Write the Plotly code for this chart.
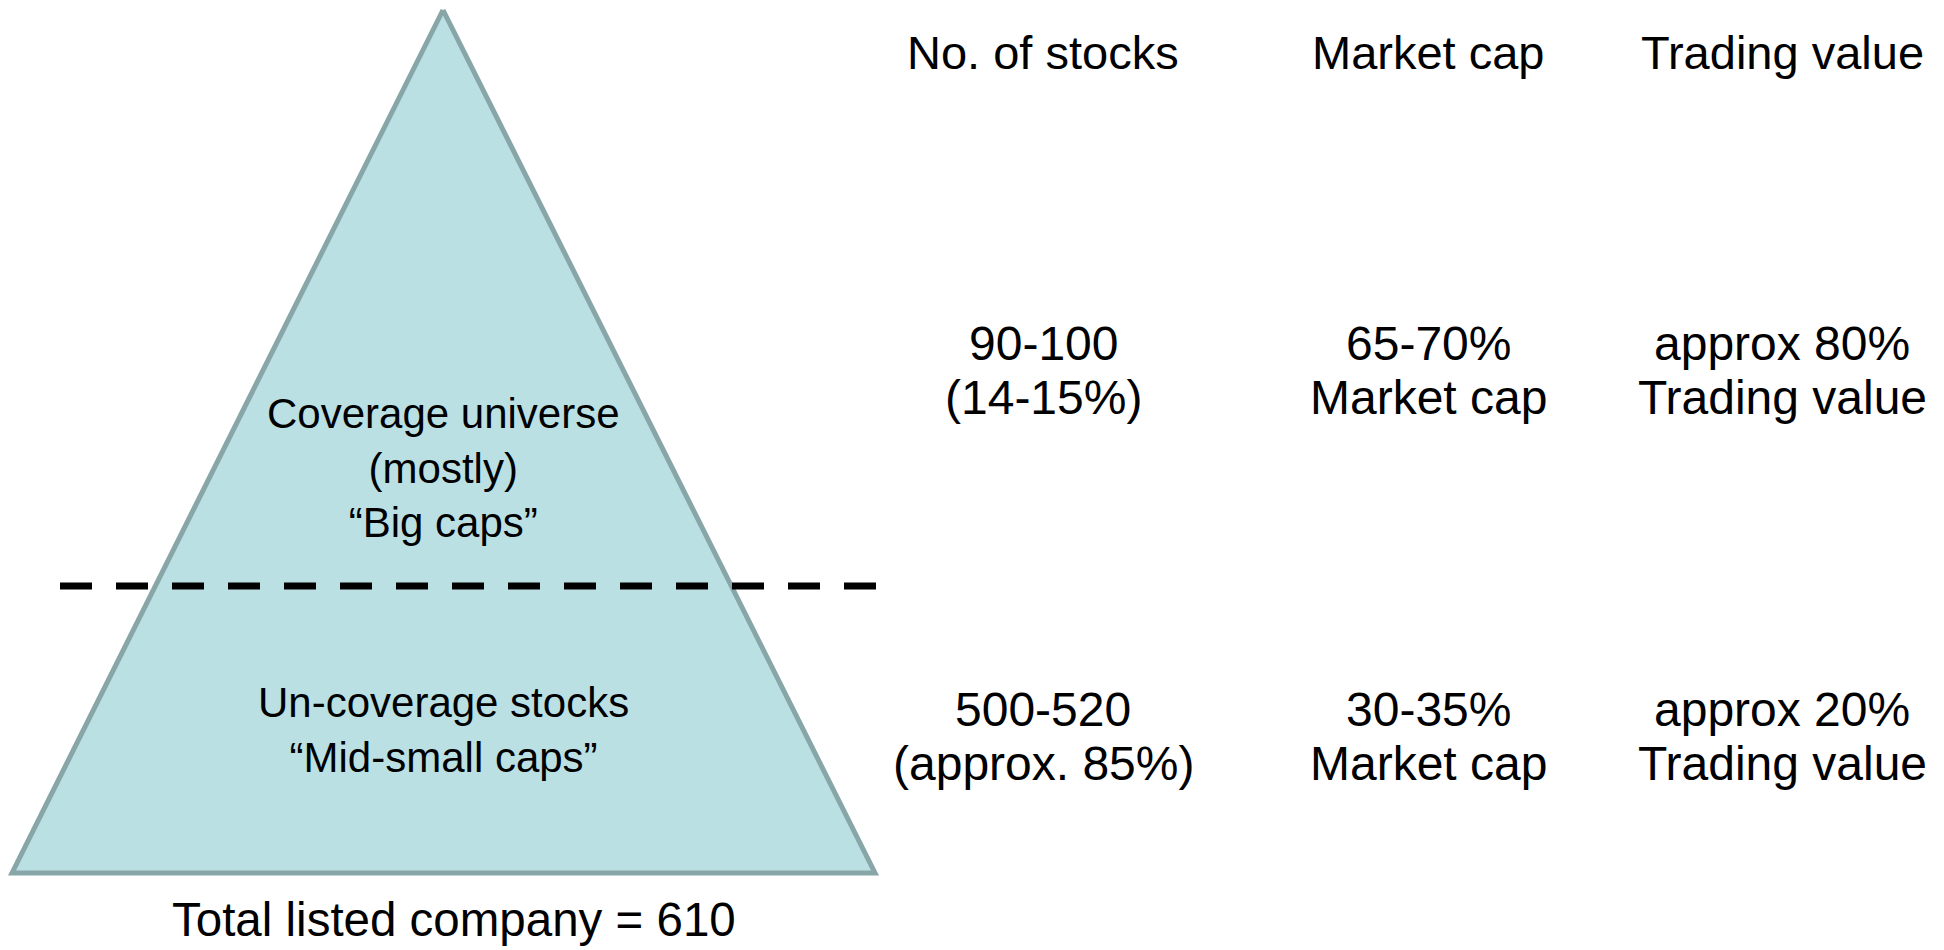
import plotly.graph_objects as go

# ---- data ----
col_headers = ["No. of stocks", "Market cap", "Trading value"]
top_values = ["90-100", "65-70%", "approx 80%"]
top_notes = ["(14-15%)", "Market cap", "Trading value"]
bottom_values = ["500-520", "30-35%", "approx 20%"]
bottom_notes = ["(approx. 85%)", "Market cap", "Trading value"]
tier_labels = ["Coverage universe<br>(mostly)<br>\u201cBig caps\u201d", "Un-coverage stocks<br>\u201cMid-small caps\u201d"]
total_label = "Total listed company = 610"

# ---- layout constants (pixel space of the page) ----
W, H = 1944, 950
BODY = 8  # default html body margin
col_x = [1043, 1428, 1782]
header_y = 52
line_y = [343, 397, 709, 763]
tri_x = [443, 875, 12, 443]
tri_y = [10, 873, 873, 10]
tier_y = [468, 730]
FONT = "Liberation Sans, Arial, sans-serif"

fig = go.Figure()
fig.add_trace(go.Scatter(
    x=tri_x, y=tri_y, mode="lines", fill="toself",
    fillcolor="#BAE0E4", line=dict(color="#88A6A8", width=5),
    hoverinfo="skip", showlegend=False))

fig.add_shape(type="line", xref="x", yref="y", x0=60, x1=876, y0=586, y1=586,
              line=dict(color="black", width=7, dash="32px,24px"))

annotations = []
for cx, h in zip(col_x, col_headers):
    annotations.append(dict(x=cx, y=header_y, text=h, font=dict(size=47, color="black", family=FONT)))
for ly, row in zip(line_y, [top_values, top_notes, bottom_values, bottom_notes]):
    for cx, t in zip(col_x, row):
        annotations.append(dict(x=cx, y=ly, text=t, font=dict(size=48, color="black", family=FONT)))
for ty, t in zip(tier_y, tier_labels):
    annotations.append(dict(x=443, y=ty, text=t, font=dict(size=42, color="black", family=FONT)))
annotations.append(dict(x=454, y=919, text=total_label, font=dict(size=47.5, color="black", family=FONT)))
for a in annotations:
    a.update(xref="x", yref="y", showarrow=False, xanchor="center", yanchor="middle", align="center")

fig.update_layout(
    width=W - 2 * BODY, height=H - BODY, margin=dict(l=0, r=0, t=0, b=0),
    paper_bgcolor="white", plot_bgcolor="white",
    xaxis=dict(range=[BODY, W - BODY], visible=False, fixedrange=True),
    yaxis=dict(range=[H, BODY], visible=False, fixedrange=True),
    annotations=annotations, showlegend=False)

fig.write_html("out.html", config={"displayModeBar": False})
